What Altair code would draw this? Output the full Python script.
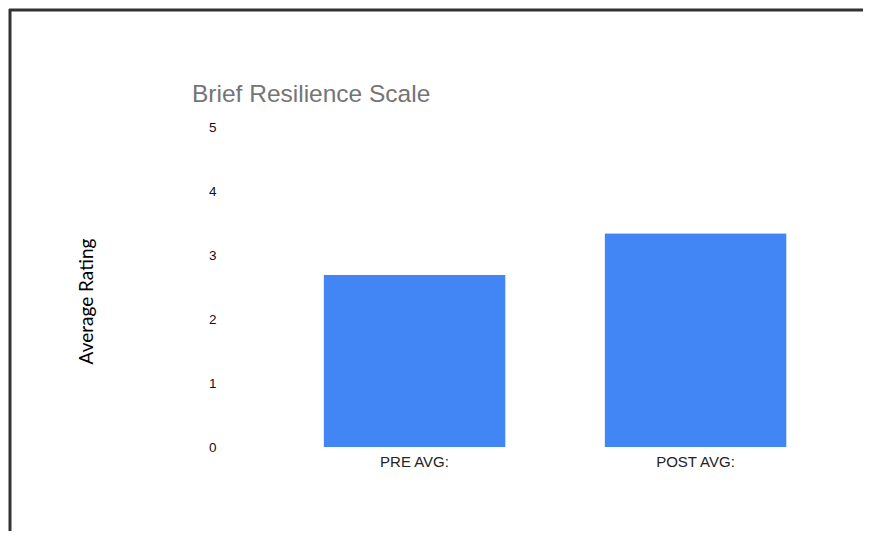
import altair as alt
import pandas as pd

categories = ["PRE AVG:", "POST AVG:"]
values = [2.69, 3.34]
y_ticks = [0, 1, 2, 3, 4, 5]
chart_title = "Brief Resilience Scale"

df = pd.DataFrame({"cat": categories, "val": values})

bars = alt.Chart(df).mark_bar(color="#4285F4", cornerRadiusTopLeft=1, cornerRadiusTopRight=1).encode(
    x=alt.X("cat:N", sort=categories,
            scale=alt.Scale(paddingInner=0.352, paddingOuter=0.2614),
            axis=alt.Axis(title=None, labelAngle=0, ticks=False, domain=False,
                          labelFont="Liberation Sans", labelFontSize=15,
                          labelColor="#222222", labelPadding=7)),
    y=alt.Y("val:Q", scale=alt.Scale(domain=[0, 5], nice=False),
            axis=alt.Axis(title="Average Rating", values=y_ticks, grid=False,
                          ticks=False, domain=False, labelFont="Liberation Sans",
                          labelFontSize=13.5, labelColor="#111111", labelPadding=34,
                          titleFont="Lato", titleFontSize=19, titleFontWeight="normal",
                          titleColor="#000000", titleAngle=-90, titleAlign="center",
                          titleBaseline="alphabetic", titleX=-158, titleY=174)),
)

title_df = pd.DataFrame({"t": [chart_title]})
title_text = alt.Chart(title_df).mark_text(
    align="left", baseline="alphabetic", font="Liberation Sans", fontSize=24.5,
    color="#757575"
).encode(text="t:N", x=alt.value(-58), y=alt.value(-25))

frame_df = pd.DataFrame({"k": [0]})
top_line = alt.Chart(frame_df).mark_rule(color="#333333", strokeWidth=3).encode(
    x=alt.value(-241), x2=alt.value(700), y=alt.value(-117)
)
left_line = alt.Chart(frame_df).mark_rule(color="#333333", strokeWidth=3).encode(
    x=alt.value(-240), y=alt.value(-118), y2=alt.value(500)
)

chart = alt.layer(bars, title_text, top_line, left_line).properties(
    width=610,
    height=320,
    autosize=alt.AutoSizeParams(type="none"),
    padding={"left": 242, "top": 119, "right": 3, "bottom": 84},
).configure_view(stroke=None)

chart.save("out.html", embed_options={"renderer": "svg", "actions": False})
